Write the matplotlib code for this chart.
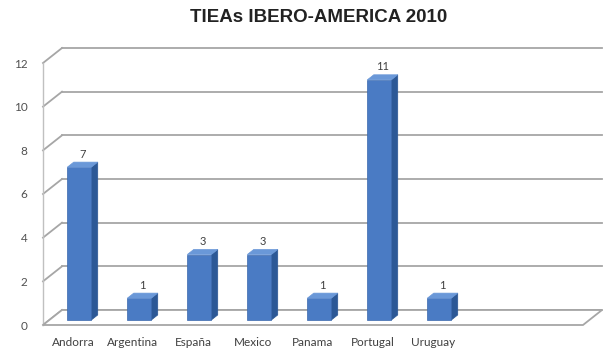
import matplotlib
matplotlib.use('Agg')
import matplotlib.pyplot as plt
from matplotlib.patches import Polygon

# ---- data ----
categories = ['Andorra', 'Argentina', 'España', 'Mexico', 'Panama', 'Portugal', 'Uruguay']
values = [7, 1, 3, 3, 1, 11, 1]
yticks = [0, 2, 4, 6, 8, 10, 12]
title = 'TIEAs IBERO-AMERICA 2010'
n_slots = 9  # the category axis leaves room for two more

W, H = 603, 353
fig = plt.figure(figsize=(W / 100, H / 100), dpi=100)
ax = fig.add_axes([43 / W, 28 / H, 540 / W, 262 / H])
ax.set_xlim(-0.5, n_slots - 0.5)
ax.set_ylim(yticks[0], yticks[-1])

# depth vector (data units) for the oblique 3D look
px_x = (540 / n_slots)
px_y = 262 / (yticks[-1] - yticks[0])
DXD = 19 / px_x
DYD = 15 / px_y


def P(x, y, d):
    return (x + d * DXD, y + d * DYD)


grid_c = '#a6a6a6'
x0, x1 = -0.5, n_slots - 0.5
# back wall gridlines + side wall diagonals
for v in yticks:
    bx, by = P(x0, v, 1)
    ex, ey = P(x1, v, 1)
    ax.plot([bx, ex], [by, ey], color=grid_c, lw=1.3, clip_on=False, zorder=1)
    fx, fy = P(x0, v, 0)
    ax.plot([fx, bx], [fy, by], color=grid_c, lw=1.3, clip_on=False, zorder=1)
# front vertical edge of side wall
ax.plot([x0, x0], [yticks[0], yticks[-1]], color='#c0c0c0', lw=1.0, clip_on=False, zorder=1)
# floor
floor = [P(x0, 0, 0), P(x1, 0, 0), P(x1, 0, 1), P(x0, 0, 1)]
ax.add_patch(Polygon(floor, closed=True, facecolor='white', edgecolor=grid_c,
                     lw=1.3, clip_on=False, zorder=1.5))

# bars
hw = 0.2
da, db = 0.33, 0.67
front_c, side_c, top_c = '#4a7bc4', '#2c5896', '#6a98d8'
for i, v in enumerate(values):
    front = [P(i - hw, 0, da), P(i + hw, 0, da), P(i + hw, v, da), P(i - hw, v, da)]
    side = [P(i + hw, 0, da), P(i + hw, 0, db), P(i + hw, v, db), P(i + hw, v, da)]
    top = [P(i - hw, v, da), P(i + hw, v, da), P(i + hw, v, db), P(i - hw, v, db)]
    ax.add_patch(Polygon(side, closed=True, facecolor=side_c, edgecolor=side_c, lw=0.5,
                         clip_on=False, zorder=3))
    ax.add_patch(Polygon(front, closed=True, facecolor=front_c, edgecolor='#3a68ad', lw=0.5,
                         clip_on=False, zorder=3))
    ax.add_patch(Polygon(top, closed=True, facecolor=top_c, edgecolor=top_c, lw=0.5,
                         clip_on=False, zorder=3))
    ax.annotate(str(v), xy=P(i, v, 0.5), xytext=(0, 3.5), textcoords='offset points',
                ha='center', va='bottom', fontsize=8, color='#404040',
                family='Lato', zorder=4, annotation_clip=False)

for s in ax.spines.values():
    s.set_visible(False)
ax.set_xticks(range(len(categories)))
ax.set_xticklabels(categories)
ax.set_yticks(yticks)
ax.tick_params(axis='x', length=0, pad=9, labelsize=8.5, labelcolor='#404040')
ax.tick_params(axis='y', length=0, pad=11, labelsize=8.5, labelcolor='#505050')
for lab in ax.get_xticklabels() + ax.get_yticklabels():
    lab.set_family('Lato')
ax.patch.set_alpha(0)

fig.text(319 / W, 1 - 17 / H, title, ha='center', va='center', fontsize=13.5,
         fontweight='bold', family='Liberation Sans', color='#222222')

fig.savefig('out.png', dpi=100)
